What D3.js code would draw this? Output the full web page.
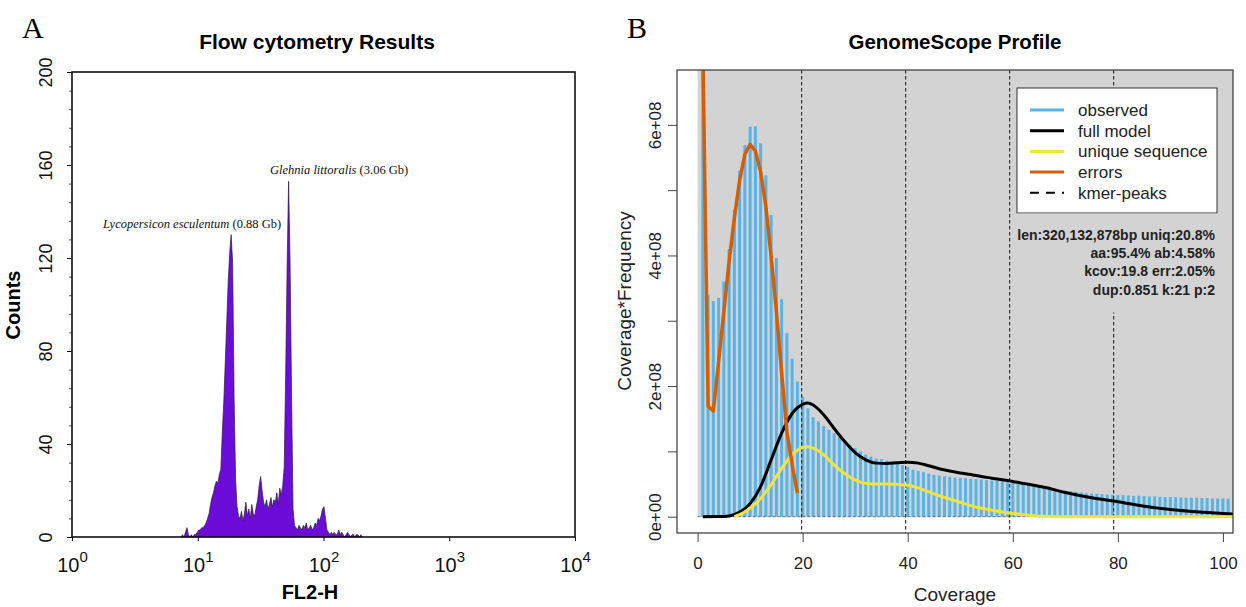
<!DOCTYPE html>
<html><head><meta charset="utf-8">
<script src="https://cdn.jsdelivr.net/npm/d3@7"></script>
<style>body{margin:0;background:#fff} svg{display:block}</style>
</head><body>
<svg id="c" width="1246" height="607"></svg>
<script>
// ---------------- Panel A data (flow cytometry, 1024 log channels over 4 decades) ----------------
const fl2ChannelStart = 222;      // channel of first bin
const fl2BinChannels = 3;         // channels per bin
const fl2Counts = [
  0,1,0,2,4,1,0,1,0,1,
  1,2,3,3,4,4,5,6,8,10,
  14,17,19,22,24,23,27,29,45,58,
  75,92,110,122,130,118,60,25,13,9,
  8,11,7,10,15,9,12,8,14,10,
  9,13,16,22,26,20,15,13,16,12,
  14,17,13,16,15,19,14,21,18,22,
  30,70,117,153,117,60,12,5,4,3,
  5,4,3,5,4,6,3,4,5,3,
  4,6,5,8,7,9,12,13,8,3,
  2,1,2,1,2,1,1,3,1,2,
  1,0,1,2,1,0,1,1,0,1,
  1,0,1,0
];
const fl2TickValues = [1,10,100,1000,10000];
const fl2TickExponents = ["0","1","2","3","4"];
const countTicks = [0,40,80,120,160,200];
const countMinorTicks = [8,16,24,32,48,56,64,72,88,96,104,112,128,136,144,152,168,176,184,192];
const peakLabels = [
  {italic:"Lycopersicon esculentum", plain:" (0.88 Gb)"},
  {italic:"Glehnia littoralis", plain:" (3.06 Gb)"}
];

// ---------------- Panel B data (GenomeScope) ----------------
const observedCoverage = d3.range(1, 102);
const observedValues = [ // x 1e8
  8.9,3.4,3.3,3.35,3.6,4.1,4.7,5.3,5.69,5.97,
  5.98,5.72,5.23,4.62,3.96,3.33,2.81,2.42,2.07,1.84,
  1.66,1.52,1.46,1.39,1.33,1.28,1.22,1.16,1.10,1.05,
  1.00,0.95,0.92,0.89,0.88,0.86,0.84,0.82,0.79,0.76,
  0.72,0.70,0.68,0.66,0.64,0.63,0.62,0.61,0.60,0.595,
  0.59,0.58,0.575,0.57,0.56,0.555,0.55,0.54,0.53,0.52,
  0.51,0.50,0.49,0.475,0.46,0.45,0.44,0.425,0.41,0.40,
  0.39,0.38,0.37,0.36,0.355,0.35,0.345,0.34,0.335,0.33,
  0.33,0.325,0.32,0.32,0.315,0.31,0.31,0.305,0.30,0.30,
  0.30,0.295,0.29,0.29,0.29,0.285,0.285,0.28,0.28,0.28,
  0.275
];
const modelCoverage = [1,4,6,8,10,12,14,16,18,20,21,22,24,26,28,30,32,34,36,38,40,42,44,46,48,50,52,54,56,58,60,62,64,66,70,75,80,85,90,95,100,103];
const fullModelValues = [0,0.002,0.012,0.07,0.2,0.46,0.87,1.28,1.58,1.72,1.74,1.71,1.56,1.35,1.15,0.98,0.87,0.82,0.815,0.825,0.835,0.82,0.78,0.735,0.70,0.67,0.645,0.615,0.59,0.565,0.54,0.51,0.48,0.45,0.37,0.29,0.23,0.16,0.11,0.075,0.05,0.038];
const uniqueCoverage = [7,8,10,12,14,16,18,20,21,22,24,26,28,30,32,34,36,38,40,42,44,46,48,50,52,54,56,58,60,62,64,66,70,80,90,100,103];
const uniqueValues = [0,0.03,0.13,0.28,0.49,0.74,0.95,1.06,1.07,1.05,0.95,0.79,0.66,0.56,0.51,0.50,0.50,0.495,0.48,0.44,0.38,0.32,0.27,0.22,0.17,0.13,0.10,0.07,0.05,0.03,0.015,0.005,0,0,0,0,0];
const errorCoverage = [1,2,3,4,5,6,7,8,9,10,11,12,13,14,15,16,17,18,19];
const errorValues = [7.2,1.69,1.62,2.37,3.14,3.91,4.57,5.15,5.55,5.70,5.60,5.28,4.75,3.98,3.15,2.2,1.3,0.8,0.36];
const kmerPeaks = [19.8,39.6,59.4,79.2];
const coverageTicks = [0,20,40,60,80,100];
const freqTicks = [0,1e8,2e8,3e8,4e8,5e8,6e8];
const freqLabelTicks = [0,2e8,4e8,6e8];
const freqLabels = ["0e+00","2e+08","4e+08","6e+08"];
const legendLabels = ["observed","full model","unique sequence","errors","kmer-peaks"];
const legendColors = ["#56B4E9","#000000","#F0E442","#D55E00","#000000"];
const statLines = ["len:320,132,878bp uniq:20.8%","aa:95.4% ab:4.58%","kcov:19.8 err:2.05%","dup:0.851 k:21 p:2"];

// ---------------- drawing ----------------
const svg = d3.select('#c');
const sans = '"Liberation Sans", Arial, Helvetica, sans-serif';
const serif = '"Liberation Serif", "Times New Roman", serif';

// ===== Panel A =====
const A = {l:72, r:575, t:72, b:537};
const xA = d3.scaleLog().domain([1,1e4]).range([A.l, A.r]);
const yA = d3.scaleLinear().domain([0,200]).range([A.b, A.t]);

svg.append('text').attr('x',22).attr('y',38).attr('font-family',serif).attr('font-size',30).text('A');
svg.append('text').attr('x',317).attr('y',49).attr('text-anchor','middle').attr('font-family',sans)
  .attr('font-weight','bold').attr('font-size',21).text('Flow cytometry Results');

const histA = fl2Counts.map((c,i)=>({v:Math.pow(10,(fl2ChannelStart+fl2BinChannels*i)/256), c}));
const areaA = d3.area().x(d=>xA(d.v)).y0(yA(0)).y1(d=>yA(d.c));
svg.append('path').datum(histA).attr('d',areaA)
  .attr('fill','#6c0cd9').attr('stroke','#2a1a3a').attr('stroke-width',0.7).attr('stroke-linejoin','round');

peakLabels.forEach((p,k)=>{
  const t = svg.append('text').attr('font-family',serif).attr('font-size',12.5).attr('fill','#111')
    .attr('x', k===0 ? 103 : 270).attr('y', k===0 ? 228 : 174);
  t.append('tspan').attr('font-style','italic').text(p.italic);
  t.append('tspan').text(p.plain);
});

// axes A
const yAxA = svg.append('g').attr('transform',`translate(${A.l},0)`)
  .call(d3.axisLeft(yA).tickValues(countTicks).tickSize(5).tickFormat(d3.format('d')));
yAxA.select('.domain').remove();
yAxA.selectAll('text').attr('transform','rotate(-90)').attr('x',0).attr('y',-20).attr('dy',0)
  .attr('text-anchor','middle').attr('font-family',sans).attr('font-size',18).attr('fill','#111');
const yMinA = svg.append('g').attr('transform',`translate(${A.l},0)`)
  .call(d3.axisLeft(yA).tickValues(countMinorTicks).tickSize(3).tickFormat(''));
yMinA.select('.domain').remove();
yMinA.selectAll('line').attr('stroke','#555');

const xAxA = svg.append('g').attr('transform',`translate(0,${A.b})`)
  .call(d3.axisBottom(xA).tickValues(fl2TickValues).tickSize(4).tickFormat(''));
xAxA.select('.domain').remove();
xAxA.selectAll('.tick').append('text').attr('y',35).attr('text-anchor','middle')
  .attr('font-family',sans).attr('fill','#111')
  .each(function(d,i){
    const t = d3.select(this);
    t.append('tspan').attr('font-size',20).text('10');
    t.append('tspan').attr('font-size',15).attr('dy',-10).text(fl2TickExponents[i]);
  });
svg.append('rect').attr('x',A.l).attr('y',A.t).attr('width',A.r-A.l).attr('height',A.b-A.t)
  .attr('fill','none').attr('stroke','#111').attr('stroke-width',1.6);
svg.append('text').attr('transform','translate(20,305) rotate(-90)').attr('text-anchor','middle')
  .attr('font-family',sans).attr('font-weight','bold').attr('font-size',20).text('Counts');
svg.append('text').attr('x',310).attr('y',599).attr('text-anchor','middle')
  .attr('font-family',sans).attr('font-weight','bold').attr('font-size',20).text('FL2-H');

// ===== Panel B =====
const B = {l:677, r:1233, t:70, b:533};
const xB = d3.scaleLinear().domain([-3.92,101.92]).range([B.l,B.r]);
const yB = d3.scaleLinear().domain([-0.25e8,6.84e8]).range([B.b,B.t]);

svg.append('text').attr('x',627).attr('y',38).attr('font-family',serif).attr('font-size',30).text('B');
svg.append('text').attr('x',955).attr('y',49).attr('text-anchor','middle').attr('font-family',sans)
  .attr('font-weight','bold').attr('font-size',20.5).text('GenomeScope Profile');

svg.append('clipPath').attr('id','clipB').append('rect')
  .attr('x',B.l).attr('y',B.t).attr('width',B.r-B.l).attr('height',B.b-B.t);
const gB = svg.append('g').attr('clip-path','url(#clipB)');

gB.append('rect').attr('x',xB(0)).attr('y',B.t).attr('width',B.r-xB(0)).attr('height',yB(0)-B.t)
  .attr('fill','#d3d3d3');

gB.selectAll('line.obs').data(observedCoverage).join('line').attr('class','obs')
  .attr('x1',d=>xB(d)).attr('x2',d=>xB(d)).attr('y1',yB(0)).attr('y2',(d,i)=>yB(observedValues[i]*1e8))
  .attr('stroke','#56B4E9').attr('stroke-width',3);

gB.append('line').attr('x1',xB(0)).attr('x2',B.r).attr('y1',yB(0)).attr('y2',yB(0))
  .attr('stroke','#555').attr('stroke-width',0.8).attr('stroke-dasharray','3,2');

gB.selectAll('line.peak').data(kmerPeaks).join('line').attr('class','peak')
  .attr('x1',d=>xB(d)).attr('x2',d=>xB(d)).attr('y1',B.t).attr('y2',B.b)
  .attr('stroke','#333').attr('stroke-width',1.2).attr('stroke-dasharray','3.5,2.5');

const lineFull = d3.line().x((d,i)=>xB(modelCoverage[i])).y(d=>yB(d*1e8)).curve(d3.curveMonotoneX);
gB.append('path').datum(fullModelValues).attr('d',lineFull).attr('fill','none').attr('stroke','#000').attr('stroke-width',3);
const lineUniq = d3.line().x((d,i)=>xB(uniqueCoverage[i])).y(d=>yB(d*1e8)).curve(d3.curveMonotoneX);
gB.append('path').datum(uniqueValues).attr('d',lineUniq).attr('fill','none').attr('stroke','#F0E442').attr('stroke-width',3);
const lineErr = d3.line().x((d,i)=>xB(errorCoverage[i])).y(d=>yB(d*1e8));
gB.append('path').datum(errorValues).attr('d',lineErr).attr('fill','none').attr('stroke','#D55E00')
  .attr('stroke-width',3.5).attr('stroke-linejoin','round');

// legend
const L = {x:1017, y:88, w:200, h:125};
svg.append('rect').attr('x',L.x).attr('y',L.y).attr('width',L.w).attr('height',L.h)
  .attr('fill','#fff').attr('stroke','#333').attr('stroke-width',1);
legendLabels.forEach((lab,i)=>{
  const cy = 110 + i*20.7;
  svg.append('line').attr('x1',1030).attr('x2',1064).attr('y1',cy).attr('y2',cy)
    .attr('stroke',legendColors[i]).attr('stroke-width', i===4 ? 2 : 3)
    .attr('stroke-dasharray', i===4 ? '9,7' : null);
  svg.append('text').attr('x',1078).attr('y',cy+6).attr('font-family',sans).attr('font-size',17)
    .attr('fill','#222').text(lab);
});
svg.append('rect').attr('x',1016).attr('y',213.5).attr('width',202).attr('height',99).attr('fill','#d3d3d3');
statLines.forEach((s,i)=>{
  svg.append('text').attr('x',1215).attr('y',240 + i*18.2).attr('text-anchor','end')
    .attr('font-family',sans).attr('font-weight','bold').attr('font-size',14).attr('fill','#222').text(s);
});

// axes B
const xAxB = svg.append('g').attr('transform',`translate(0,${B.b})`)
  .call(d3.axisBottom(xB).tickValues(coverageTicks).tickSize(9).tickPadding(6));
xAxB.select('.domain').remove();
xAxB.selectAll('line').attr('stroke','#444');
xAxB.selectAll('text').attr('font-family',sans).attr('font-size',17).attr('fill','#222').attr('y',36).attr('dy',0);

const yAxB = svg.append('g').attr('transform',`translate(${B.l},0)`)
  .call(d3.axisLeft(yB).tickValues(freqTicks).tickSize(9)
    .tickFormat(d=>{const k=freqLabelTicks.indexOf(d); return k>=0?freqLabels[k]:'';}));
yAxB.select('.domain').remove();
yAxB.selectAll('line').attr('stroke','#444');
yAxB.selectAll('text').attr('transform','rotate(-90)').attr('x',0).attr('y',-16).attr('dy',0)
  .attr('text-anchor','middle').attr('font-family',sans).attr('font-size',17).attr('fill','#222');

svg.append('rect').attr('x',B.l).attr('y',B.t).attr('width',B.r-B.l).attr('height',B.b-B.t)
  .attr('fill','none').attr('stroke','#444').attr('stroke-width',1.3);
svg.append('text').attr('transform','translate(631,301) rotate(-90)').attr('text-anchor','middle')
  .attr('font-family',sans).attr('font-size',19).attr('fill','#222').text('Coverage*Frequency');
svg.append('text').attr('x',955).attr('y',601).attr('text-anchor','middle')
  .attr('font-family',sans).attr('font-size',19).attr('fill','#222').text('Coverage');
</script>
</body></html>
